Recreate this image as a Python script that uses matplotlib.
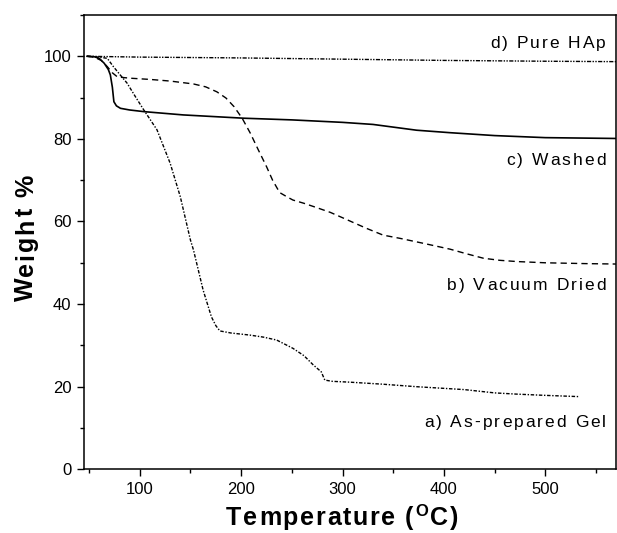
import numpy as np
import matplotlib
matplotlib.use("Agg")
import matplotlib.pyplot as plt
from matplotlib.ticker import MultipleLocator
from matplotlib.font_manager import FontProperties
from matplotlib.transforms import IdentityTransform

plt.rcParams['font.family'] = ['Liberation Sans', 'DejaVu Sans']

# TGA curves, temperature (C) vs weight (%)
t_gel = [48, 60, 68, 74, 80, 87.5, 95, 104, 117, 130, 140, 150, 153, 162.5, 170.7,
         175, 179, 190, 208.5, 222, 235, 251, 262, 271, 279, 282.5, 290, 307, 340,
         373, 420, 450, 472, 500, 533]
w_gel = [100, 99.8, 99.5, 97.5, 95.7, 93.5, 90.5, 87, 82.2, 74.1, 66, 55.5, 53.1,
         43.4, 36.9, 34.8, 33.5, 33.0, 32.5, 32.0, 31.3, 29.3, 27.5, 25.3, 23.6, 21.6,
         21.3, 21.1, 20.6, 20.0, 19.3, 18.5, 18.2, 17.9, 17.6]

t_vac = [48, 55, 62, 68, 73, 78, 90, 110, 130, 153, 165, 176, 185, 193, 201, 209,
         217, 225, 231, 238, 245, 251, 262, 274, 288, 301, 312, 324, 340, 357, 380,
         406, 422, 439, 455, 472, 500, 540, 570]
w_vac = [100, 99.8, 99.0, 97.5, 96, 95, 94.7, 94.4, 94.0, 93.3, 92.6, 91.4, 89.9,
         87.8, 85, 81.4, 77.3, 73.3, 70, 67, 66.0, 65.2, 64.4, 63.4, 62.2, 60.8, 59.6,
         58.3, 56.7, 55.9, 54.7, 53.3, 52.2, 51.1, 50.6, 50.3, 50.0, 49.8, 49.7]

t_wash = [48, 55, 60, 65, 69, 71, 73, 74.5, 77, 81, 90, 104, 143, 203, 250, 300,
          330, 373, 406, 450, 500, 570]
w_wash = [100, 99.9, 99.5, 98.3, 96.8, 95.5, 92.5, 89.0, 88.0, 87.4, 87.0, 86.6,
          85.8, 85.0, 84.6, 84.0, 83.5, 82.1, 81.5, 80.8, 80.3, 80.1]

t_hap = [48, 100, 200, 300, 400, 500, 570]
w_hap = [100.0, 99.8, 99.6, 99.3, 99.0, 98.8, 98.7]

labels = ["a) As-prepared Gel", "b) Vacuum Dried", "c) Washed", "d) Pure HAp"]
label_base = [10.3, 43.4, 73.6, 102.0]   # baseline of each label, in weight %

fig = plt.figure(figsize=(6.17, 5.33), dpi=100)
ax = fig.add_axes([0.1361, 0.1195, 0.862, 0.8524])

ax.plot(t_gel, w_gel, color='black', lw=1.0, dashes=(2.5, 1.2, 1, 1.2))
ax.plot(t_vac, w_vac, color='black', lw=1.0, dashes=(4.5, 3))
ax.plot(t_wash, w_wash, color='black', lw=1.2)
ax.plot(t_hap, w_hap, color='black', lw=1.0, dashes=(3, 1, 1, 1, 1, 1))

ax.set_xlim(45, 569.5)
ax.set_ylim(0, 110)
ax.xaxis.set_major_locator(MultipleLocator(100))
ax.xaxis.set_minor_locator(MultipleLocator(50))
ax.yaxis.set_major_locator(MultipleLocator(20))
ax.yaxis.set_minor_locator(MultipleLocator(10))
ax.tick_params(which='major', direction='out', length=5, width=1.0, labelsize=12, pad=4)
ax.tick_params(which='minor', direction='out', length=3, width=1.0)
for s in ax.spines.values():
    s.set_linewidth(1.1)

renderer = fig.canvas.get_renderer()


def tracked(x0, y0, segs, track, angle=0, align='center'):
    # letter-spaced text in display pixels; segs = [(text, fontprops, rise_px), ...]
    chars = []
    for txt, fp, rise in segs:
        bar = renderer.get_text_width_height_descent("|", fp, ismath=False)[0]
        for c in txt:
            w = renderer.get_text_width_height_descent(c + "|", fp, ismath=False)[0] - bar
            chars.append((c, fp, rise, w))
    total = sum(ch[3] for ch in chars) + track * (len(chars) - 1)
    pos = {'center': -total / 2, 'right': -total, 'left': 0}[align]
    for c, fp, rise, w in chars:
        if c != ' ':
            if angle == 0:
                px, py = x0 + pos, y0 + rise
            else:
                px, py = x0 - rise, y0 + pos
            fig.text(px, py, c, transform=IdentityTransform(), fontproperties=fp,
                     ha='left', va='baseline', rotation=angle, rotation_mode='anchor')
        pos += w + track


H = fig.bbox.height
bold = FontProperties(family='Liberation Sans', weight='bold', size=18)
bold_sup = FontProperties(family='Liberation Sans', weight='bold', size=12)
plain = FontProperties(family='Liberation Sans', size=12.5)

# axis titles
tracked(342, H - 525, [("Temperature (", bold, 0), ("O", bold_sup, 9), ("C)", bold, 0)], 1.7)
tracked(33, H - 238, [("Weight %", bold, 0)], 2.0, angle=90)

# curve labels
for txt, yb in zip(labels, label_base):
    x_px, y_px = ax.get_yaxis_transform().transform((0.981, yb))
    tracked(x_px, y_px, [(txt, plain, 0)], 2.0, align='right')

fig.savefig("out.png", dpi=100)
